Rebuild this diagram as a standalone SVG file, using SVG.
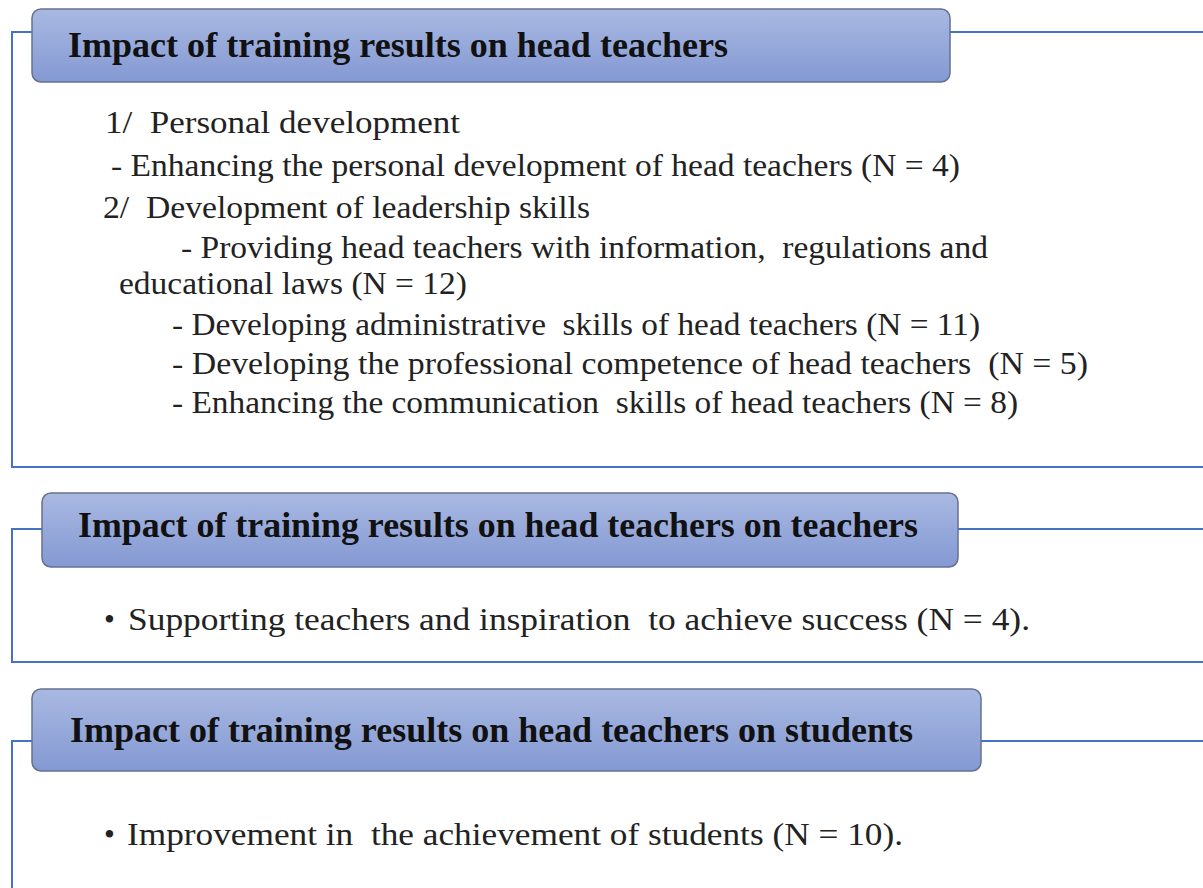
<svg xmlns="http://www.w3.org/2000/svg" width="1203" height="888" viewBox="0 0 1203 888">
<defs>
<linearGradient id="hg" x1="0" y1="0" x2="0" y2="1">
<stop offset="0" stop-color="#A9B9E2"/>
<stop offset="1" stop-color="#8499D3"/>
</linearGradient>
<style>
.hdr{fill:url(#hg);stroke:#667190;stroke-width:1.5}
.ht{font-family:"Liberation Serif",serif;font-weight:bold;font-size:36px;fill:#111}
.bt{font-family:"Liberation Serif",serif;font-size:31px;fill:#222}
.ln{fill:none;stroke:#4472C4;stroke-width:2}
</style>
</defs>
<rect width="1203" height="888" fill="#fff"/>
<g id="connectors">
<path class="ln" d="M32,32 H12 V467 H1203"/>
<path class="ln" d="M950,32 H1203"/>
<path class="ln" d="M42,529 H12 V662 H1203"/>
<path class="ln" d="M958,529 H1203"/>
<path class="ln" d="M32,741 H12 V888"/>
<path class="ln" d="M981,741 H1203"/>
</g>
<g id="node1">
<rect class="hdr" x="32" y="9" width="918" height="73" rx="9"/>
<text class="ht" x="68" y="57" textLength="660" lengthAdjust="spacingAndGlyphs">Impact of training results on head teachers</text>
</g>
<g id="node1-body">
<text class="bt" x="105" y="133" textLength="355" lengthAdjust="spacingAndGlyphs" xml:space="preserve">1/  Personal development</text>
<text class="bt" x="111" y="176" textLength="849" lengthAdjust="spacingAndGlyphs">- Enhancing the personal development of head teachers (N = 4)</text>
<text class="bt" x="103" y="218" textLength="487" lengthAdjust="spacingAndGlyphs" xml:space="preserve">2/  Development of leadership skills</text>
<text class="bt" x="181" y="258" textLength="807" lengthAdjust="spacingAndGlyphs" xml:space="preserve">- Providing head teachers with information,  regulations and</text>
<text class="bt" x="119" y="294" textLength="348" lengthAdjust="spacingAndGlyphs">educational laws (N = 12)</text>
<text class="bt" x="172" y="335" textLength="808" lengthAdjust="spacingAndGlyphs" xml:space="preserve">- Developing administrative  skills of head teachers (N = 11)</text>
<text class="bt" x="172" y="374" textLength="916" lengthAdjust="spacingAndGlyphs" xml:space="preserve">- Developing the professional competence of head teachers  (N = 5)</text>
<text class="bt" x="172" y="413" textLength="846" lengthAdjust="spacingAndGlyphs" xml:space="preserve">- Enhancing the communication  skills of head teachers (N = 8)</text>
</g>
<g id="node2">
<rect class="hdr" x="42" y="493" width="916" height="74" rx="9"/>
<text class="ht" x="78" y="537" textLength="840" lengthAdjust="spacingAndGlyphs">Impact of training results on head teachers on teachers</text>
</g>
<g id="node2-body">
<text class="bt" x="104" y="630">•</text>
<text class="bt" x="128" y="630" textLength="902" lengthAdjust="spacingAndGlyphs" xml:space="preserve">Supporting teachers and inspiration  to achieve success (N = 4).</text>
</g>
<g id="node3">
<rect class="hdr" x="32" y="689" width="949" height="82" rx="9"/>
<text class="ht" x="70" y="742" textLength="843" lengthAdjust="spacingAndGlyphs">Impact of training results on head teachers on students</text>
</g>
<g id="node3-body">
<text class="bt" x="104" y="845">•</text>
<text class="bt" x="127" y="845" textLength="776" lengthAdjust="spacingAndGlyphs" xml:space="preserve">Improvement in  the achievement of students (N = 10).</text>
</g>
</svg>
